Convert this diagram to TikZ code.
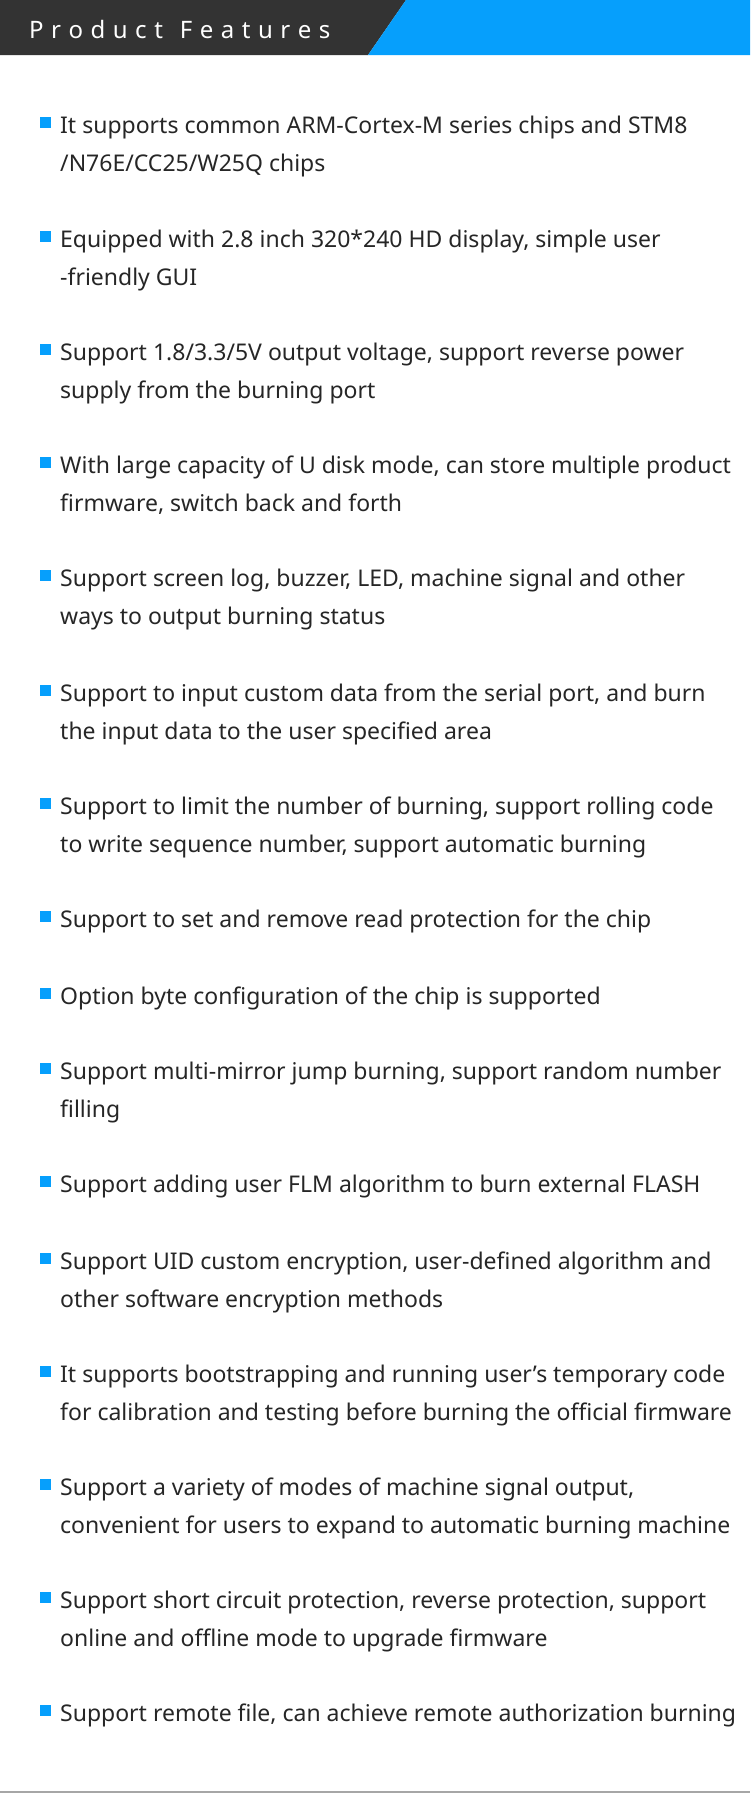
\documentclass[tikz,border=0pt]{standalone}
\usepackage{fontspec}
\setmainfont{Noto Sans}
\definecolor{dark}{HTML}{333333}
\definecolor{blu}{HTML}{069FFC}
\definecolor{txt}{HTML}{262626}
\newcommand{\ls}{\hspace{7.5pt}}
\begin{document}
\begin{tikzpicture}[x=1pt,y=-1pt,
  item/.style={anchor=base west,inner sep=0pt,font=\fontsize{23}{23}\selectfont,text=txt},
  bul/.style={fill=blu,draw=none,minimum size=11pt,inner sep=0pt}]
\useasboundingbox (0,0) rectangle (750,1794);
\fill[white] (0,0) rectangle (750,1794);
\fill[dark] (0,0) -- (406,0) -- (368,55) -- (0,55) -- cycle;
\fill[blu] (406,0) -- (750,0) -- (750,55) -- (368,55) -- cycle;
\node[anchor=base west,inner sep=0pt,text=white,font=\bfseries\fontsize{24}{24}\selectfont] (title) at (29,38) {P\ls r\ls o\ls d\ls u\ls c\ls t\hspace{17pt}F\ls e\ls a\ls t\ls u\ls r\ls e\ls s};
\draw[color=gray!70,line width=1.2pt] (0,1792) -- (750,1792);
\foreach \i/\y/\a/\b in {
1/133/{It supports common ARM-Cortex-M series chips and STM8}/{/N76E/CC25/W25Q chips},
2/247/{Equipped with 2.8 inch 320*240 HD display, simple user}/{-friendly GUI},
3/360/{Support 1.8/3.3/5V output voltage, support reverse power}/{supply from the burning port},
4/473/{With large capacity of U disk mode, can store multiple product}/{firmware, switch back and forth},
5/586/{Support screen log, buzzer, LED, machine signal and other}/{ways to output burning status},
6/701/{Support to input custom data from the serial port, and burn}/{the input data to the user specified area},
7/814/{Support to limit the number of burning, support rolling code}/{to write sequence number, support automatic burning},
8/927/{Support to set and remove read protection for the chip}/{},
9/1004/{Option byte configuration of the chip is supported}/{},
10/1079/{Support multi-mirror jump burning, support random number}/{filling},
11/1192/{Support adding user FLM algorithm to burn external FLASH}/{},
12/1269/{Support UID custom encryption, user-defined algorithm and}/{other software encryption methods},
13/1382/{It supports bootstrapping and running user's temporary code}/{for calibration and testing before burning the official firmware},
14/1495/{Support a variety of modes of machine signal output,}/{convenient for users to expand to automatic burning machine},
15/1608/{Support short circuit protection, reverse protection, support}/{online and offline mode to upgrade firmware},
16/1721/{Support remote file, can achieve remote authorization burning}/{}} {
  \node[bul] (b\i) at (45.5,\y-10.5) {};
  \node[item] (t\i) at (60,\y) {\a};
  \node[item] (u\i) at (60,\y+38) {\b};
}
\end{tikzpicture}
\end{document}
